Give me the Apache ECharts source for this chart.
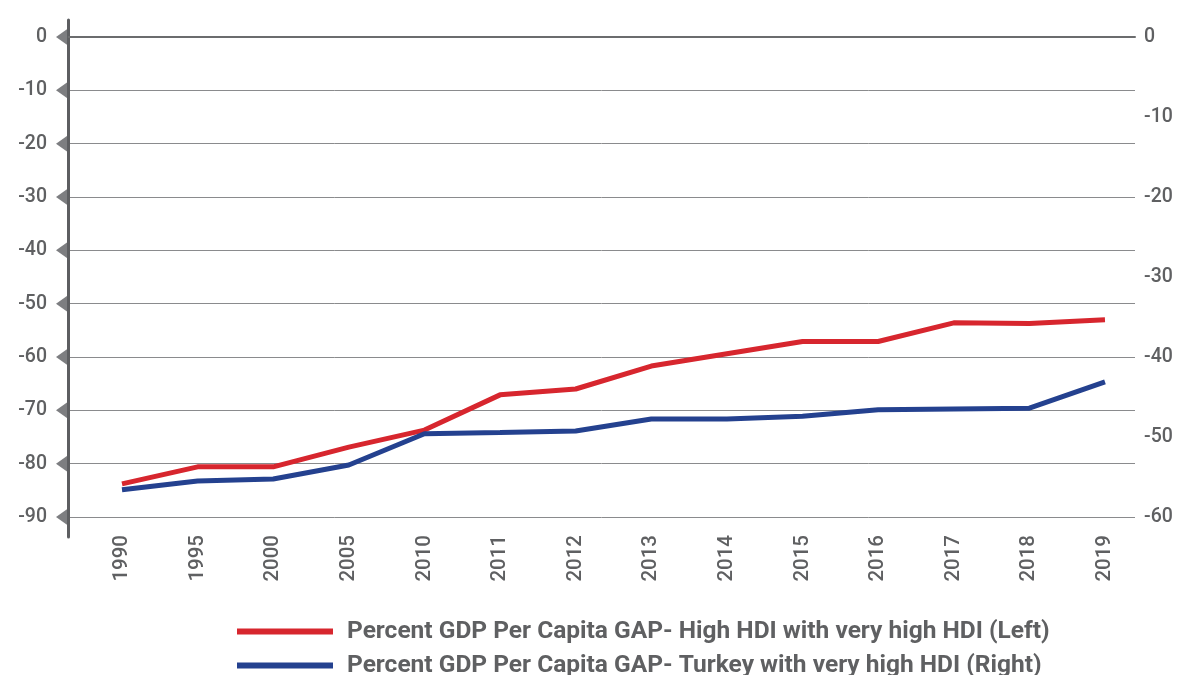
<!DOCTYPE html>
<html>
<head>
<meta charset="utf-8">
<script src="https://cdn.jsdelivr.net/npm/echarts@6/dist/echarts.min.js"></script>
<style>
  html, body { margin: 0; padding: 0; background: #fff; }
  #chart { width: 1182px; height: 675px; }
</style>
</head>
<body>
<div id="chart"></div>
<script>
// Years on the horizontal axis
const years = ['1990', '1995', '2000', '2005', '2010', '2011', '2012', '2013', '2014', '2015', '2016', '2017', '2018', '2019'];

// Percent GDP per capita gap: High HDI vs very high HDI (left axis)
const highHdiGap = [-83.8, -80.6, -80.6, -76.9, -73.7, -67.1, -66.0, -61.7, -59.4, -57.1, -57.1, -53.6, -53.7, -53.0];

// Percent GDP per capita gap: Turkey vs very high HDI (right axis)
const turkeyGap = [-56.6, -55.5, -55.25, -53.5, -49.6, -49.45, -49.25, -47.75, -47.75, -47.4, -46.6, -46.5, -46.4, -43.1];

// Axis tick values
const leftTicks = [0, -10, -20, -30, -40, -50, -60, -70, -80, -90];
const rightTicks = [0, -10, -20, -30, -40, -50, -60];

const seriesNames = [
  'Percent GDP Per Capita GAP- High HDI with very high HDI (Left)',
  'Percent GDP Per Capita GAP- Turkey with very high HDI (Right)'
];

const RED = '#d7262e';
const BLUE = '#24418f';
const TEXT = '#5f6062';
const FONT = 'Roboto, "Liberation Sans", sans-serif';

// Horizontal extent: small leading/trailing room around the first and last year
const X_MIN = -0.714;
const X_MAX = years.length - 1 + 0.397;

const chart = echarts.init(document.getElementById('chart'), null, { renderer: 'canvas' });

const legendText = {
  color: TEXT,
  fontSize: 24.5,
  fontWeight: 'bold',
  fontFamily: FONT,
  padding: [0, 0, 0, 9]
};

const axisText = {
  color: TEXT,
  fontSize: 19.5,
  fontWeight: 500,
  fontFamily: FONT
};

chart.setOption({
  animation: false,
  backgroundColor: '#ffffff',
  textStyle: { fontFamily: FONT },
  grid: [
    { left: 68, right: 47, top: 37, bottom: 158 },
    // taller frame that carries only the heavy left axis rule
    { left: 68, right: 47, top: 20, bottom: 138 }
  ],
  legend: [
    {
      left: 232, top: 614, icon: 'rect', itemWidth: 96, itemHeight: 6,
      data: [seriesNames[0]], textStyle: legendText
    },
    {
      left: 232, top: 648, icon: 'rect', itemWidth: 96, itemHeight: 6,
      data: [seriesNames[1]], textStyle: legendText
    }
  ],
  xAxis: [
    {
      type: 'value',
      gridIndex: 0,
      min: X_MIN,
      max: X_MAX,
      axisLine: { show: true, lineStyle: { color: '#6b6c6e', width: 2 } },
      axisTick: { show: false },
      splitLine: { show: false },
      axisLabel: Object.assign({
        customValues: years.map((_, i) => i),
        formatter: v => years[Math.round(v)],
        rotate: 90,
        margin: 18
      }, axisText, { fontSize: 20.5 })
    },
    { type: 'value', gridIndex: 1, show: false, min: 0, max: 1 }
  ],
  yAxis: [
    {
      type: 'value',
      gridIndex: 0,
      position: 'left',
      min: -90,
      max: 0,
      interval: 10,
      axisLine: { show: false },
      axisTick: { show: false },
      splitLine: { show: true, lineStyle: { color: '#8a8b8d', width: 1 } },
      axisLabel: Object.assign({
        customValues: leftTicks,
        margin: 21,
        padding: [4, 0, 0, 0]
      }, axisText)
    },
    {
      type: 'value',
      gridIndex: 0,
      position: 'right',
      min: -60,
      max: 0,
      interval: 10,
      axisLine: { show: false },
      axisTick: { show: false },
      splitLine: { show: false },
      axisLabel: Object.assign({
        customValues: rightTicks,
        margin: 9,
        padding: [4, 0, 0, 0]
      }, axisText)
    },
    {
      type: 'value',
      gridIndex: 1,
      position: 'left',
      min: 0,
      max: 1,
      axisLine: { show: true, lineStyle: { color: '#5d5e61', width: 3 } },
      axisTick: { show: false },
      axisLabel: { show: false },
      splitLine: { show: false }
    }
  ],
  series: [
    {
      name: seriesNames[0],
      type: 'line',
      xAxisIndex: 0,
      yAxisIndex: 0,
      data: highHdiGap.map((v, i) => [i, v]),
      symbol: 'none',
      lineStyle: { color: RED, width: 5 },
      itemStyle: { color: RED },
      z: 3
    },
    {
      name: seriesNames[1],
      type: 'line',
      xAxisIndex: 0,
      yAxisIndex: 1,
      data: turkeyGap.map((v, i) => [i, v]),
      symbol: 'none',
      lineStyle: { color: BLUE, width: 5 },
      itemStyle: { color: BLUE },
      z: 3
    },
    {
      // left-pointing arrow tick marks along the left axis
      name: 'ticks',
      type: 'scatter',
      xAxisIndex: 0,
      yAxisIndex: 0,
      data: leftTicks.map(t => [X_MIN, t]),
      symbol: 'path://M0,8 L12,0 L12,16 Z',
      symbolSize: [12, 17],
      symbolOffset: [-6, 0],
      itemStyle: { color: '#5d5e61' },
      clip: false,
      silent: true,
      z: 5
    }
  ]
});
</script>
</body>
</html>
